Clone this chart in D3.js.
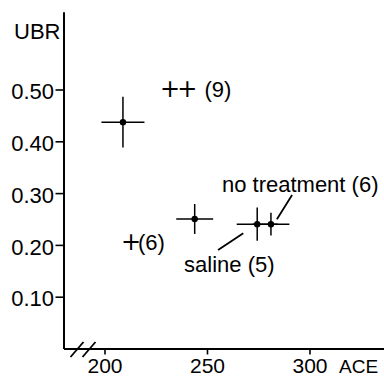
<!DOCTYPE html>
<html>
<head>
<meta charset="utf-8">
<script src="https://cdn.jsdelivr.net/npm/d3@7/dist/d3.min.js"></script>
<style>
  html, body { margin: 0; padding: 0; background: #fff; }
  svg { display: block; }
  text { font-family: "Liberation Sans", Arial, sans-serif; fill: #000; }
</style>
</head>
<body>
<svg id="chart" width="384" height="377"></svg>
<script>
// ---- data ----
const groups  = ["++ (9)", "+ (6)", "saline (5)", "no treatment (6)"];
const aceMean = [209, 244, 274.5, 281.2];
const aceErr  = [10.5, 9, 10, 9];
const ubrMean = [0.437, 0.25, 0.24, 0.24];
const ubrErr  = [0.049, 0.029, 0.032, 0.022];

const xTicks = [200, 250, 300];
const yTicks = [0.10, 0.20, 0.30, 0.40, 0.50];

// annotation labels: [plus-part, count-part], anchor in data units (left, middle)
const labelPlus  = ["++", "+", "", ""];
const labelText  = [" (9)", "(6)", "saline (5)", "no treatment (6)"];
const labelAce   = [227.1, 208.0, 238.8, 257.3];
const labelUbr   = [0.50, 0.205, 0.1625, 0.317];

// leader lines in data units
const leaderX1 = [255.4, 291.5];
const leaderY1 = [0.190, 0.2963];
const leaderX2 = [267.7, 284.1];
const leaderY2 = [0.2224, 0.2494];

// ---- scales ----
const svg = d3.select("#chart");
const x = d3.scaleLinear().domain([180, 336.4]).range([63.5, 384.1]);
const y = d3.scaleLinear().domain([0, 0.65]).range([348.5, 11.8]);

// ---- axes ----
const yAxis = d3.axisLeft(y).tickValues(yTicks).tickFormat(d3.format(".2f"))
  .tickSize(8).tickSizeOuter(0).tickPadding(1.5);
const gy = svg.append("g").attr("transform", `translate(${x.range()[0]},0)`).call(yAxis);
gy.select(".domain").attr("stroke", "#000").attr("stroke-width", 2);
gy.selectAll(".tick line").attr("stroke", "#000").attr("stroke-width", 1.6);
gy.selectAll(".tick text").attr("font-size", 22).attr("dy", "0.42em")
  .style("font-family", '"Liberation Sans", Arial, sans-serif');

const xAxis = d3.axisBottom(x).tickValues(xTicks).tickFormat(d3.format("d"))
  .tickSize(6).tickSizeOuter(0);
const gx = svg.append("g").attr("transform", `translate(0,${y.range()[0]})`).call(xAxis);
gx.select(".domain").attr("stroke", "#000").attr("stroke-width", 2);
gx.selectAll(".tick line").attr("stroke", "#000").attr("stroke-width", 1.6);
gx.selectAll(".tick text").attr("font-size", 21).attr("y", 24.5).attr("dy", 0)
  .style("font-family", '"Liberation Sans", Arial, sans-serif');

// axis titles
svg.append("text").attr("x", 14).attr("y", 38.5).attr("font-size", 22).text("UBR");
svg.append("text").attr("x", 339).attr("y", 373).attr("font-size", 19).text("ACE");

// axis break "//"
const bx = x(180), by = y(0);
[7, 19].forEach(off => {
  svg.append("line")
    .attr("x1", bx + off).attr("y1", by + 8.5)
    .attr("x2", bx + off + 13).attr("y2", by - 6.5)
    .attr("stroke", "#000").attr("stroke-width", 1.8);
});

// ---- error bars and points ----
const pts = groups.map((g, i) => ({g, x: aceMean[i], xe: aceErr[i], y: ubrMean[i], ye: ubrErr[i]}));
const gp = svg.append("g");
gp.selectAll("line.h").data(pts).join("line").attr("class", "h")
  .attr("x1", d => x(d.x - d.xe)).attr("x2", d => x(d.x + d.xe))
  .attr("y1", d => y(d.y)).attr("y2", d => y(d.y))
  .attr("stroke", "#000").attr("stroke-width", 1.5);
gp.selectAll("line.v").data(pts).join("line").attr("class", "v")
  .attr("x1", d => x(d.x)).attr("x2", d => x(d.x))
  .attr("y1", d => y(d.y - d.ye)).attr("y2", d => y(d.y + d.ye))
  .attr("stroke", "#000").attr("stroke-width", 1.5);
gp.selectAll("circle").data(pts).join("circle")
  .attr("cx", d => x(d.x)).attr("cy", d => y(d.y)).attr("r", 3.2).attr("fill", "#000");

// ---- labels ----
labelText.forEach((t, i) => {
  const tx = svg.append("text")
    .attr("x", x(labelAce[i])).attr("y", y(labelUbr[i])).attr("dy", "0.35em")
    .attr("font-size", 22).style("white-space", "pre");
  if (labelPlus[i]) {
    tx.append("tspan").style("font-family", '"DejaVu Sans", sans-serif')
      .attr("font-size", 24).attr("letter-spacing", -3).text(labelPlus[i]);
  }
  tx.append("tspan").attr("dx", labelPlus[i].length > 1 ? 4 : 0).text(t);
});

// leader lines
leaderX1.forEach((v, i) => {
  svg.append("line")
    .attr("x1", x(leaderX1[i])).attr("y1", y(leaderY1[i]))
    .attr("x2", x(leaderX2[i])).attr("y2", y(leaderY2[i]))
    .attr("stroke", "#000").attr("stroke-width", 1.8);
});
</script>
</body>
</html>
